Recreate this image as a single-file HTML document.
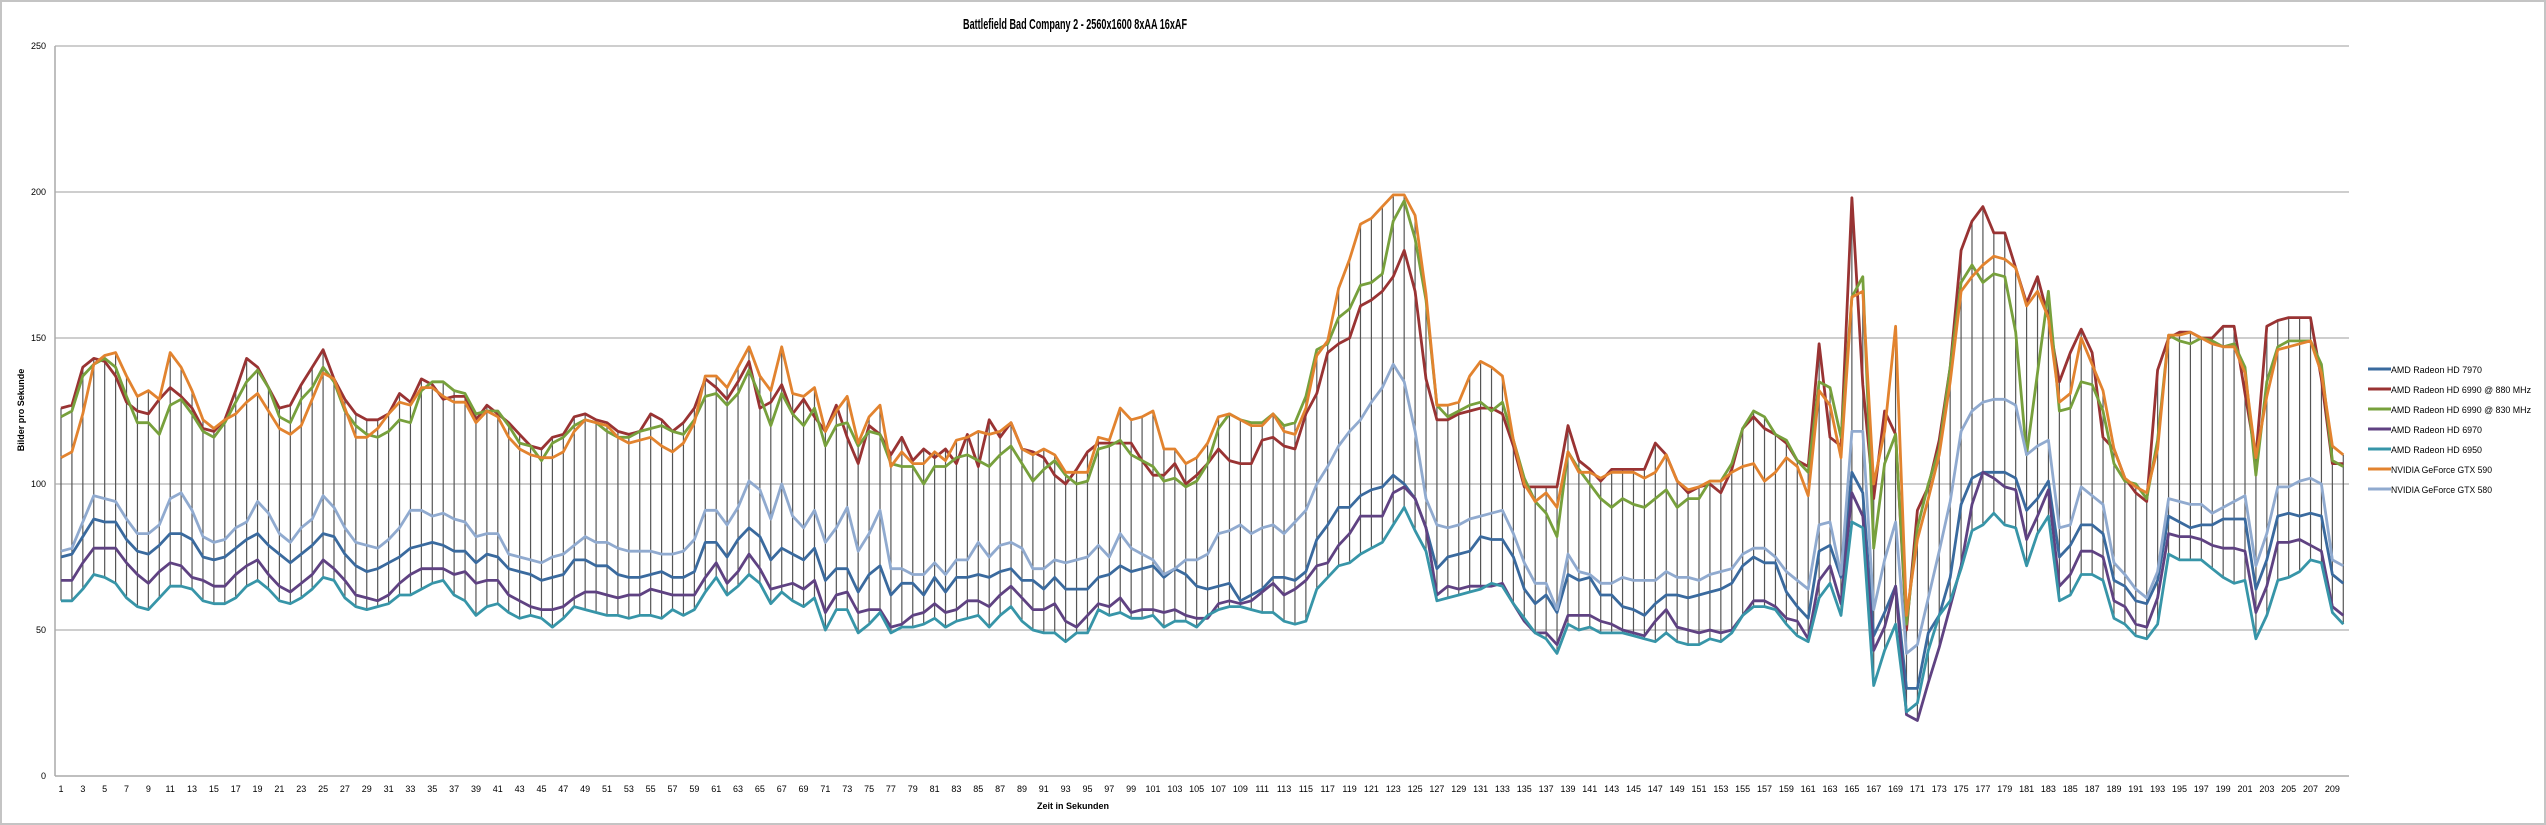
<!DOCTYPE html>
<html><head><meta charset="utf-8"><style>
html,body{margin:0;padding:0;background:#fff;}
svg{display:block;font-family:"Liberation Sans",sans-serif;}
</style></head><body>
<svg id="c" width="2546" height="825" xmlns="http://www.w3.org/2000/svg">
<rect x="1" y="1" width="2544" height="823" fill="#fff" stroke="#c4c4c4" stroke-width="2"/>
<text x="963" y="29" font-size="15" font-weight="bold" textLength="224" lengthAdjust="spacingAndGlyphs" fill="#000">Battlefield Bad Company 2 - 2560x1600 8xAA 16xAF</text>
<text transform="translate(24,410) rotate(-90)" font-size="9" font-weight="bold" text-anchor="middle">Bilder pro Sekunde</text>
<text x="1073" y="809" font-size="9" font-weight="bold" text-anchor="middle">Zeit in Sekunden</text>
<g id="grid"></g><g id="drops"></g><g id="series"></g><g id="labels"></g><g id="legend"></g>
</svg>
<script>
var NS="http://www.w3.org/2000/svg";
function el(p,t,a,txt){var e=document.createElementNS(NS,t);for(var k in a)e.setAttribute(k,a[k]);if(txt!==undefined)e.textContent=txt;p.appendChild(e);return e;}
function X(i){return 61+i*10.92;} function Y(v){return 776-v*2.92;}
var R=[126,127,140,143,142,137,128,125,124,129,133,130,126,119,118,122,132,143,140,133,126,127,134,140,146,136,129,124,122,122,124,131,128,136,134,129,
130,130,122,127,124,121,117,113,112,116,117,123,124,122,121,118,117,118,124,122,118,121,126,136,133,129,135,142,126,128,134,124,129,123,118,127,116,107,120,117,110,
116,108,112,109,112,107,117,106,122,116,121,112,111,109,103,100,105,111,114,114,114,114,108,103,103,107,100,103,107,112,108,107,107,115,116,113,112,124,131,145,
148,150,161,163,166,171,180,166,136,122,122,124,125,126,126,124,113,99,99,99,99,120,108,105,101,105,105,105,105,114,110,101,97,99,100,97,105,119,123,119,
117,114,108,106,148,116,113,198,134,95,125,117,50,91,99,115,140,180,190,195,186,186,174,162,171,157,135,145,153,145,116,112,102,97,94,139,150,152,152,150,150,154,154,131,109,154,156,157,157,157,136,107,107];
var G=[123,125,137,141,143,140,130,121,121,117,127,129,124,118,116,121,128,135,139,133,123,121,129,133,140,135,125,120,117,116,118,122,121,132,135,135,
132,131,124,125,125,120,114,113,108,114,116,120,122,121,118,116,116,118,119,120,118,117,122,130,131,127,131,139,130,120,131,124,120,126,113,120,121,113,118,117,107,
106,106,100,106,106,109,110,108,106,110,113,107,101,105,108,103,100,101,112,113,115,110,108,106,101,102,99,101,107,119,124,122,121,121,124,120,121,130,146,148,
157,160,168,169,172,190,197,184,163,127,123,125,127,128,125,128,115,102,94,90,82,111,105,100,95,92,95,93,92,95,98,92,95,95,101,101,107,119,125,123,
117,115,108,104,135,133,116,164,171,78,107,117,52,85,100,112,140,169,175,169,172,171,152,110,138,166,125,126,135,134,125,107,101,100,95,115,151,149,148,150,149,147,148,140,103,135,147,149,149,149,141,108,106];
var O=[109,111,124,141,144,145,137,130,132,129,145,140,132,122,119,122,124,128,131,125,119,117,120,129,138,136,126,116,116,119,124,128,127,133,133,130,
128,128,121,125,123,116,112,110,109,109,111,118,122,121,120,116,114,115,116,113,111,114,121,137,137,133,140,147,137,132,147,131,130,133,118,125,130,114,123,127,106,
111,107,107,111,108,115,116,118,117,118,121,112,110,112,110,104,104,104,116,115,126,122,123,125,112,112,107,109,114,123,124,122,120,120,124,118,117,126,144,149,
167,177,189,191,195,199,199,192,165,127,127,128,137,142,140,137,115,100,94,97,92,111,104,104,102,104,104,104,102,104,110,101,98,99,101,101,104,106,107,101,
104,109,106,96,132,127,109,164,166,100,118,154,55,81,95,110,135,166,171,175,178,177,174,161,166,157,128,131,150,141,132,112,102,99,97,112,151,151,152,150,148,147,147,138,109,130,146,147,148,149,138,113,110];
var LB=[77,78,87,96,95,94,88,83,83,86,95,97,91,82,80,81,85,87,94,90,83,80,85,88,96,92,85,80,79,78,81,85,91,91,89,90,88,87,82,83,83,76,75,74,73,75,76,79,82,80,80,78,77,77,77,76,76,77,81,91,91,86,92,101,98,88,100,89,85,91,80,85,
92,77,83,91,71,71,69,69,73,69,74,74,80,75,79,80,78,71,71,74,73,74,75,79,75,83,78,76,74,69,71,74,74,76,83,84,86,83,85,86,83,87,91,100,106,113,118,122,128,133,141,135,118,95,86,85,86,88,89,90,91,83,73,66,66,57,76,70,69,66,66,68,
67,67,67,70,68,68,67,69,70,71,76,78,78,75,70,67,64,86,87,69,118,118,57,74,87,42,45,61,77,94,118,125,128,129,129,127,110,113,115,85,86,99,96,93,73,69,64,61,70,95,94,93,93,90,92,94,96,72,83,99,99,101,102,100,74,72];
var B=[75,76,82,88,87,87,81,77,76,79,83,83,81,75,74,75,78,81,83,79,76,73,76,79,83,82,76,72,70,71,73,75,78,79,80,79,77,77,73,76,75,71,70,69,67,68,69,74,74,72,72,69,68,68,69,70,68,68,70,80,80,75,81,85,82,74,78,76,74,78,67,71,
71,63,69,72,62,66,66,62,68,63,68,68,69,68,70,71,67,67,64,68,64,64,64,68,69,72,70,71,72,68,71,69,65,64,65,66,60,62,64,68,68,67,70,81,86,92,92,96,98,99,103,100,95,85,71,75,76,77,82,81,81,75,64,59,62,56,69,67,68,62,62,58,
57,55,59,62,62,61,62,63,64,66,72,75,73,73,63,58,54,77,79,68,104,97,48,56,65,30,30,49,55,68,93,102,104,104,104,102,91,95,101,75,79,86,86,83,67,65,60,59,67,89,87,85,86,86,88,88,88,64,74,89,90,89,90,89,69,66];
var P=[67,67,73,78,78,78,73,69,66,70,73,72,68,67,65,65,69,72,74,69,65,63,66,69,74,71,67,62,61,60,62,66,69,71,71,71,69,70,66,67,67,62,60,58,57,57,58,61,63,63,62,61,62,62,64,63,62,62,62,68,73,66,70,76,71,64,65,66,64,67,56,62,
63,56,57,57,51,52,55,56,59,56,57,60,60,58,62,65,61,57,57,59,53,51,55,59,58,61,56,57,57,56,57,55,54,54,59,60,59,60,63,66,62,64,67,72,73,79,83,89,89,89,97,99,95,85,62,65,64,65,65,65,66,59,53,49,49,45,55,55,55,53,52,50,
49,48,53,57,51,50,49,50,49,50,55,60,60,58,54,53,47,67,72,59,97,89,43,51,65,21,19,32,44,58,72,93,104,102,99,98,81,89,98,65,69,77,77,75,60,58,52,51,61,83,82,82,81,79,78,78,77,56,65,80,80,81,79,77,58,55];
var T=[60,60,64,69,68,66,61,58,57,61,65,65,64,60,59,59,61,65,67,64,60,59,61,64,68,67,61,58,57,58,59,62,62,64,66,67,62,60,55,58,59,56,54,55,54,51,54,58,57,56,55,55,54,55,55,54,57,55,57,63,68,62,65,69,66,59,63,60,58,61,50,57,
57,49,52,56,49,51,51,52,54,51,53,54,55,51,55,58,53,50,49,49,46,49,49,57,55,56,54,54,55,51,53,53,51,55,57,58,58,57,56,56,53,52,53,64,68,72,73,76,78,80,86,92,84,77,60,61,62,63,64,66,65,59,54,49,47,42,52,50,51,49,49,49,
48,47,46,49,46,45,45,47,46,49,55,58,58,57,52,48,46,61,66,55,87,85,31,43,52,22,25,43,55,60,71,84,86,90,86,85,72,83,89,60,62,69,69,67,54,52,48,47,52,76,74,74,74,71,68,66,67,47,55,67,68,70,74,73,56,52];
var S=[[B,"#3A6A9E","AMD Radeon HD 7970",91],[R,"#993333","AMD Radeon HD 6990 @ 880 MHz",140],[G,"#77A03C","AMD Radeon HD 6990 @ 830 MHz",140],[P,"#5F4282","AMD Radeon HD 6970",91],[T,"#3795A8","AMD Radeon HD 6950",91],[O,"#E2832F","NVIDIA GeForce GTX 590",101],[LB,"#90AACF","NVIDIA GeForce GTX 580",101]];
var grid=document.getElementById("grid"),drops=document.getElementById("drops"),ser=document.getElementById("series"),lab=document.getElementById("labels"),leg=document.getElementById("legend");
for(var v=0;v<=250;v+=50){var y=Y(v);if(v>0)el(grid,"line",{x1:55,x2:2349,y1:y,y2:y,stroke:"#bdbdbd","stroke-width":1.5});
el(lab,"text",{x:46,y:y+3,"font-size":9,"text-anchor":"end"},String(v));}
el(grid,"line",{x1:55,x2:55,y1:46,y2:776,stroke:"#aaa","stroke-width":1.5});
el(grid,"line",{x1:55,x2:2349,y1:776,y2:776,stroke:"#aaa","stroke-width":1.5});
for(var i=0;i<210;i++){var mx=-1,mn=999;S.forEach(function(s){var q=s[0][i];if(q!==undefined){mx=Math.max(mx,q);mn=Math.min(mn,q);}});
el(drops,"line",{x1:X(i),x2:X(i),y1:Y(mx),y2:Y(mn),stroke:"#555","stroke-width":1.2});
if(i%2==0)el(lab,"text",{x:X(i),y:792,"font-size":9,"text-anchor":"middle"},String(i+1));}
S.forEach(function(s,k){var pts=s[0].map(function(q,i){return X(i).toFixed(1)+","+Y(q).toFixed(1);}).join(" ");
el(ser,"polyline",{points:pts,fill:"none",stroke:s[1],"stroke-width":2.8,"stroke-linejoin":"round"});
var ly=369+k*20;el(leg,"line",{x1:2368,x2:2391,y1:ly,y2:ly,stroke:s[1],"stroke-width":3});
el(leg,"text",{x:2391,y:ly+4,"font-size":9.3,textLength:s[3],lengthAdjust:"spacingAndGlyphs"},s[2]);});
</script>
</body></html>
